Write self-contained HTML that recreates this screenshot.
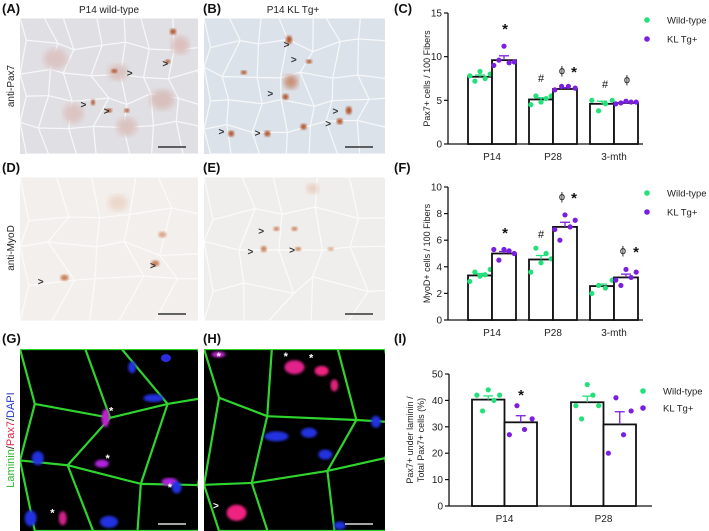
<!DOCTYPE html>
<html><head><meta charset="utf-8"><style>
html,body{margin:0;padding:0;background:#fff;}
body{width:709px;height:531px;position:relative;overflow:hidden;font-family:"Liberation Sans",Arial,sans-serif;}
svg{position:absolute;left:0;top:0;}
</style></head><body>
<svg id="fig" width="709" height="531" viewBox="0 0 709 531" xmlns="http://www.w3.org/2000/svg" font-family="Liberation Sans, Arial, sans-serif">
<defs>
<filter id="blur1"><feGaussianBlur stdDeviation="1.2"/></filter>
<filter id="blur3"><feGaussianBlur stdDeviation="3"/></filter>
</defs>
<g font-size="13" font-weight="bold" fill="#111">
<text x="2" y="13">(A)</text>
<text x="203" y="13">(B)</text>
<text x="394" y="13">(C)</text>
<text x="2" y="172">(D)</text>
<text x="203" y="172">(E)</text>
<text x="394" y="172">(F)</text>
<text x="2" y="343">(G)</text>
<text x="203" y="343">(H)</text>
<text x="394" y="343">(I)</text>
</g>
<text x="109" y="13" font-size="10" text-anchor="middle" fill="#222">P14 wild-type</text>
<text x="293" y="13" font-size="10" text-anchor="middle" fill="#222">P14 KL Tg+</text>
<text transform="translate(14,86) rotate(-90)" font-size="10" text-anchor="middle" fill="#222">anti-Pax7</text>
<text transform="translate(14,248) rotate(-90)" font-size="10" text-anchor="middle" fill="#222">anti-MyoD</text>
<text transform="translate(14,440) rotate(-90)" font-size="11" text-anchor="middle"><tspan fill="#2db82d">Laminin</tspan><tspan fill="#222">/</tspan><tspan fill="#e0204a">Pax7</tspan><tspan fill="#222">/</tspan><tspan fill="#2233cc">DAPI</tspan></text>

<g id="micro"></g>
<g id="charts"></g>
</svg>
<script>
// ===== Chart data =====
const groupsC = ["P14","P28","3-mth"];
const wtMeanC = [7.7, 5.1, 4.6];
const klMeanC = [9.6, 6.3, 4.7];
const wtErrC = [0.2, 0.2, 0.3];
const klErrC = [0.5, 0.15, 0.1];
const wtPtsC = [[7.8,7.2,8.3,7.5,8.0],[4.5,5.5,4.8,5.2,5.5],[5.0,3.8,4.6,5.0]];
const klPtsC = [[9.0,9.6,11.2,9.3,9.4],[6.2,6.6,6.6,6.4],[4.6,4.7,4.9,4.8,4.8]];
const ticksC = [0,5,10,15];

const groupsF = ["P14","P28","3-mth"];
const wtMeanF = [3.35, 4.55, 2.55];
const klMeanF = [5.0, 7.0, 3.2];
const wtErrF = [0.15, 0.3, 0.15];
const klErrF = [0.15, 0.35, 0.25];
const wtPtsF = [[2.9,3.6,3.3,3.4,3.8],[3.6,5.4,4.3,5.0,4.6],[2.0,2.6,2.4,3.0]];
const klPtsF = [[5.3,4.5,5.3,5.2,5.0],[6.8,6.0,7.9,7.0,7.5],[3.0,2.6,3.8,3.2,3.6]];
const ticksF = [0,2,4,6,8,10];

const groupsI = ["P14","P28"];
const wtMeanI = [40.3, 39.3];
const klMeanI = [31.7, 30.9];
const wtErrI = [1.4, 2.3];
const klErrI = [2.5, 4.8];
const wtPtsI = [[42,36,44,40,42],[38,33,46,42,38]];
const klPtsI = [[27,38,29,33],[20,41,27,36]];
const ticksI = [0,10,20,30,40,50];

const NS="http://www.w3.org/2000/svg";
function mk(tag, attrs, parent){const e=document.createElementNS(NS,tag);for(const k in attrs)e.setAttribute(k,attrs[k]);parent.appendChild(e);return e;}
const charts=document.getElementById('charts');
const GREEN="#22e07a", PURPLE="#7a1fe0";

function drawChart(o){
  const g=mk('g',{},charts);
  
  
  const y=v=>o.y0-(v/o.ymax)*(o.y0-o.y1);
  const ya=mk('line',{x1:o.ax,y1:o.y1,x2:o.ax,y2:o.y0,stroke:'#111','stroke-width':1.3},g);
  
  
  const xa=mk('line',{x1:o.ax,y1:o.y0,x2:o.axEnd,y2:o.y0,stroke:'#111','stroke-width':1.3},g);
  
  
  o.ticks.forEach(t=>{
    mk('line',{x1:o.ax-4,y1:y(t),x2:o.ax,y2:y(t),stroke:'#111','stroke-width':1.2},g);
    const tx=mk('text',{x:o.ax-6,y:y(t)+3.5,'font-size':10,'text-anchor':'end',fill:'#222'},g);
    tx.textContent=t;
    
    
  });
  const yt=mk('text',{transform:`translate(${o.titleX},${(o.y0+o.y1)/2}) rotate(-90)`,'font-size':9,'text-anchor':'middle',fill:'#222'},g);
  o.title.forEach((line,i)=>{const ts=mk('tspan',{x:0,dy:i?11:0},yt);ts.textContent=line;});
  
  
  o.groups.forEach((gn,i)=>{
    const gx=o.gStart+i*o.gStep;
    const series=[[o.wtMean,o.wtErr,o.wtPts,GREEN,gx],[o.klMean,o.klErr,o.klPts,PURPLE,gx+o.bw]];
    series.forEach(([m,e,pts,col,bx],si)=>{
      const b=mk('rect',{x:bx,y:y(m[i]),width:o.bw,height:o.y0-y(m[i]),fill:'#fff',stroke:'#111','stroke-width':1.8},g);
      
      
      const cx=bx+o.bw/2;
      mk('line',{x1:cx,y1:y(m[i]),x2:cx,y2:y(m[i]+e[i]),stroke:col,'stroke-width':1.3},g);
      mk('line',{x1:cx-5,y1:y(m[i]+e[i]),x2:cx+5,y2:y(m[i]+e[i]),stroke:col,'stroke-width':1.3},g);
      const n=pts[i].length;
      pts[i].forEach((v,k)=>{
        const px=cx+(n>1?(k-(n-1)/2)*(o.bw*o.spread/(n-1)):0);
        const c=mk('circle',{cx:px,cy:y(v),r:2.6,fill:col},g);
        
        
      });
    });
    const xl=mk('text',{x:gx+o.bw,y:o.y0+16,'font-size':10,'text-anchor':'middle',fill:'#222'},g);
    xl.textContent=gn;
    
    
  });
  o.ann.forEach(a=>{
    const t=mk('text',{x:a[0],y:a[1],'font-size':a[2]=='*'?15:11,'text-anchor':'middle',fill:'#111','font-weight':a[2]=='*'?'bold':'normal'},g);
    t.textContent=a[2];
    
    
  });
  [['Wild-type',GREEN],['KL Tg+',PURPLE]].forEach((l,i)=>{
    const c=mk('circle',{cx:o.legX,cy:o.legY+i*o.legStep,r:2.8,fill:l[1]},g);
    
    
    const t=mk('text',{x:o.legX+20,y:o.legY+i*o.legStep+3.5,'font-size':9.5,fill:'#222'},g);
    t.textContent=l[0];
    
    
  });
}
drawChart({name:'chart-pax7',ax:448,axEnd:643,y0:144,y1:13,ymax:15,ticks:ticksC,groups:groupsC,gStart:468,gStep:61,bw:24,spread:0.85,
  wtMean:wtMeanC,klMean:klMeanC,wtErr:wtErrC,klErr:klErrC,wtPts:wtPtsC,klPts:klPtsC,titleX:430,title:['Pax7+ cells / 100 Fibers'],
  ann:[[505,34,'*'],[541,82,'#'],[562,74,'ϕ'],[574,77,'*'],[605,88,'#'],[627,83,'ϕ']],legX:647,legY:20,legStep:19});
drawChart({name:'chart-myod',ax:448,axEnd:643,y0:320,y1:187,ymax:10,ticks:ticksF,groups:groupsF,gStart:468,gStep:61,bw:24,spread:0.85,
  wtMean:wtMeanF,klMean:klMeanF,wtErr:wtErrF,klErr:klErrF,wtPts:wtPtsF,klPts:klPtsF,titleX:430,title:['MyoD+ cells / 100 Fibers'],
  ann:[[505,238,'*'],[541,238,'#'],[562,200,'ϕ'],[574,203,'*'],[623,254,'ϕ'],[636,257,'*']],legX:647,legY:193,legStep:19});
drawChart({name:'chart-laminin',ax:449,axEnd:652,y0:506,y1:374,ymax:50,ticks:ticksI,groups:groupsI,gStart:472,gStep:99,bw:32.5,spread:0.7,
  wtMean:wtMeanI,klMean:klMeanI,wtErr:wtErrI,klErr:klErrI,wtPts:wtPtsI,klPts:klPtsI,titleX:413,title:['Pax7+ under laminin /','Total Pax7+ cells (%)'],
  ann:[[521,400,'*']],legX:643,legY:391,legStep:17});

// ===== Micrographs (decorative) =====
const micro=document.getElementById('micro');
function panel(name,x,y,w,h,bg,lineCol,lw,cells,dots,arrows,stars,bar,txtCol){
  const g=mk('g',{},micro);
  
  
  const cp='cp'+name;
  const cpe=mk('clipPath',{id:cp},g);mk('rect',{x,y,width:w,height:h},cpe);
  const inner=mk('g',{'clip-path':`url(#${cp})`},g);
  mk('rect',{x,y,width:w,height:h,fill:bg},inner);
  const cols=cells[0], rows=cells[1];
  const cw=w/cols, ch=h/rows;
  let seed=name.length*7+name.charCodeAt(name.length-1);
  const rnd=()=>{seed=(seed*9301+49297)%233280;return seed/233280;};
  const P=[];
  for(let r=0;r<=rows;r++){P[r]=[];for(let c=0;c<=cols;c++){P[r][c]=[x+c*cw+(c>0&&c<cols?(rnd()-0.5)*cw*0.6:0)+(r%2?cw*0.25:0),y+r*ch+(r>0&&r<rows?(rnd()-0.5)*ch*0.5:0)];}}
  let d='';
  for(let r=0;r<rows;r++)for(let c=0;c<cols;c++){
    const a=P[r][c],b=P[r][c+1],e=P[r+1][c+1],f=P[r+1][c];
    d+=`M${a[0]},${a[1]}L${b[0]},${b[1]}L${e[0]},${e[1]}L${f[0]},${f[1]}Z`;
  }
  mk('path',{d,fill:'none',stroke:lineCol,'stroke-width':lw,'stroke-linejoin':'round'},inner);
  dots.forEach(dt=>mk('ellipse',{cx:x+dt[0]*w,cy:y+dt[1]*h,rx:dt[2],ry:dt[3]||dt[2]*0.7,fill:dt[4],filter:dt[5]?'url(#blur'+dt[5]+')':''},inner));
  arrows.forEach(a=>{const t=mk('text',{x:x+a[0]*w,y:y+a[1]*h,'font-size':10,'font-weight':'bold',fill:txtCol},inner);t.textContent='>';});
  stars.forEach(a=>{const t=mk('text',{x:x+a[0]*w,y:y+a[1]*h,'font-size':11,'font-weight':'bold',fill:'#fff'},inner);t.textContent='*';});
  mk('line',{x1:x+w-40,y1:y+h-7,x2:x+w-12,y2:y+h-7,stroke:bar,'stroke-width':1.5},inner);
}
const br='#b2562e';
panel('micrograph-a',20,18,178,136,'#e0dfe3','#f6f7f8',1.3,[7,5],
  [[0.2,0.3,12,10,'#dcc4c4',3],[0.55,0.4,10,8,'#dac2c0',3],[0.8,0.6,12,10,'#d8c0be',3],[0.3,0.7,10,10,'#dcc4c2',3],[0.9,0.2,9,9,'#dbc0be',3],[0.6,0.8,10,9,'#dac2c0',3],
   [0.86,0.1,3,3,br,1],[0.53,0.39,3,2,br,1],[0.83,0.32,2.5,2,br,1],[0.41,0.62,2,3,br,1],[0.5,0.68,3,2,br,1],[0.6,0.68,2.5,2,br,1]],
  [[0.6,0.43],[0.8,0.36],[0.34,0.66],[0.47,0.71]],[], '#333','#333');
panel('micrograph-b',204,18,181,136,'#dbe2ea','#f5f7f9',1.3,[7,5],
  [[0.47,0.16,3,4,br,1],[0.58,0.32,3,2,br,1],[0.22,0.4,3,2,br,1],[0.48,0.47,7,7,'#c98f78',3],[0.45,0.58,3,3,br,1],[0.8,0.68,3,4,br,1],[0.75,0.76,3,3,br,1],[0.15,0.85,3,3,br,1],[0.35,0.85,3,3,br,1],[0.55,0.8,3,3,br,1]],
  [[0.44,0.22],[0.48,0.33],[0.35,0.58],[0.71,0.71],[0.67,0.8],[0.08,0.86],[0.28,0.87]],[], '#333','#333');
panel('micrograph-d',20,177,178,144,'#f3efec','#fbfaf9',1.3,[5,4],
  [[0.55,0.18,10,8,'#ecd8cc',3],[0.25,0.7,4,3,'#c9805c',1],[0.76,0.6,4,3,'#c9805c',1],[0.8,0.4,4,3,'#d9a88c',1]],
  [[0.1,0.75],[0.73,0.64]],[], '#333','#333');
panel('micrograph-e',204,177,181,144,'#f0eeec','#fafaf9',1.3,[5,4],
  [[0.6,0.08,6,5,'#e6cdbd',3],[0.4,0.36,3,2,'#c9805c',1],[0.5,0.36,3,2,'#c9805c',1],[0.33,0.5,3,3,'#c9805c',1],[0.52,0.5,3,2,'#c9805c',1],[0.7,0.5,3,2,'#d9a88c',1]],
  [[0.3,0.4],[0.24,0.54],[0.47,0.53]],[], '#333','#333');
panel('micrograph-g',20,349,178,182,'#000','#2fd42f',2.2,[3,3],
  [[0.82,0.05,5,4,'#2c2ce0',0],[0.48,0.38,4,9,'#c020d0',1],[0.46,0.63,7,4,'#b020e0',1],[0.84,0.73,8,4,'#b020e0',1],[0.75,0.27,10,4,'#2030e0',1],[0.88,0.76,5,6,'#2030e0',1],[0.1,0.6,6,7,'#2030e0',1],[0.5,0.95,9,6,'#2030e0',1],[0.63,0.1,4,6,'#2030e0',1],[0.06,0.93,6,8,'#2030e0',1],[0.24,0.93,4,7,'#d0208a',1]],
  [],[[0.5,0.36],[0.48,0.62],[0.83,0.78],[0.17,0.92]],'#ddd','#fff');
panel('micrograph-h',204,349,181,182,'#000','#2fd42f',2.2,[3,3],
  [[0.08,0.03,7,3,'#c020d0',1],[0.5,0.1,10,7,'#e0208a',1],[0.65,0.12,7,5,'#f02080',1],[0.72,0.2,4,6,'#e0207a',1],[0.4,0.48,12,5,'#2030e0',1],[0.58,0.46,8,5,'#2030e0',1],[0.67,0.58,7,5,'#2030e0',1],[0.95,0.4,5,6,'#2030e0',1],[0.18,0.9,10,8,'#f02080',1],[0.75,0.97,6,4,'#2030e0',1]],
  [[0.05,0.88]],[[0.07,0.06],[0.44,0.06],[0.58,0.07]],'#ddd','#fff');
</script>
</body></html>
